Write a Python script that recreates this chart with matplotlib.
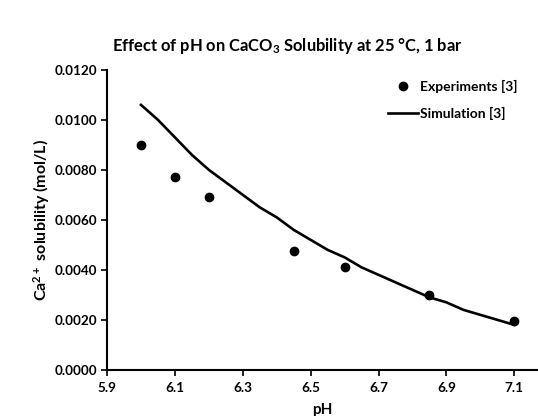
import matplotlib
matplotlib.use("Agg")
import matplotlib.pyplot as plt

# -----------------------------------------------------------------------------
# Data
# -----------------------------------------------------------------------------
exp_ph = [6.0, 6.1, 6.2, 6.45, 6.6, 6.85, 7.1]
exp_ca = [0.0090, 0.0077, 0.0069, 0.00475, 0.0041, 0.0030, 0.00195]

sim_ph = [6.00, 6.05, 6.10, 6.15, 6.20, 6.25, 6.30, 6.35, 6.40, 6.45, 6.50,
          6.55, 6.60, 6.65, 6.70, 6.75, 6.80, 6.85, 6.90, 6.95, 7.00, 7.05, 7.10]
sim_ca = [0.0106, 0.0100, 0.0093, 0.0086, 0.0080, 0.0075, 0.0070, 0.0065,
          0.0061, 0.0056, 0.0052, 0.0048, 0.0045, 0.0041, 0.0038, 0.0035,
          0.0032, 0.0029, 0.0027, 0.0024, 0.0022, 0.0020, 0.0018]

x_ticks = [5.9, 6.1, 6.3, 6.5, 6.7, 6.9, 7.1]
y_ticks = [0.0, 0.002, 0.004, 0.006, 0.008, 0.010, 0.012]

# -----------------------------------------------------------------------------
# Style
# -----------------------------------------------------------------------------
plt.rcParams['font.family'] = ['Lato', 'DejaVu Sans']
plt.rcParams['font.weight'] = 'bold'
plt.rcParams['mathtext.default'] = 'regular'

fig = plt.figure(figsize=(5.38, 4.16), dpi=100)
ax = fig.add_axes([0.199, 0.111, 0.801, 0.721])

ax.plot(exp_ph, exp_ca, 'o', color='black', markersize=6, label='Experiments [3]',
        zorder=3)
ax.plot(sim_ph, sim_ca, '-', color='black', linewidth=1.9, label='Simulation [3]')

ax.set_xlim(5.9, 7.17)
ax.set_ylim(0, 0.012)
ax.set_xticks(x_ticks)
ax.set_xticklabels([f"{v:.1f}" for v in x_ticks])
ax.set_yticks(y_ticks)
ax.set_yticklabels([f"{v:.4f}" for v in y_ticks])

for side in ['top', 'right']:
    ax.spines[side].set_visible(False)
for side in ['left', 'bottom']:
    ax.spines[side].set_linewidth(1.5)
ax.tick_params(axis='both', direction='out', length=4, width=1.2,
               labelsize=9.7)
ax.tick_params(axis='y', pad=3)
ax.tick_params(axis='x', pad=5)

ax.set_xlabel('pH', fontsize=11, fontweight='bold', labelpad=6)
ax.set_ylabel('Ca$^{2+}$ solubility (mol/L)', fontsize=11.5, fontweight='bold',
              labelpad=2)
fig.text(0.535, 0.89, 'Effect of pH on CaCO$_3$ Solubility at 25 °C, 1 bar',
         ha='center', va='center', fontsize=11.9, fontweight='bold')

ax.legend(loc='upper right', bbox_to_anchor=(0.965, 0.985), frameon=False,
          fontsize=10, labelspacing=1.0, handlelength=2.2, handletextpad=0.1,
          borderaxespad=0)

fig.savefig('out.png', dpi=100)
